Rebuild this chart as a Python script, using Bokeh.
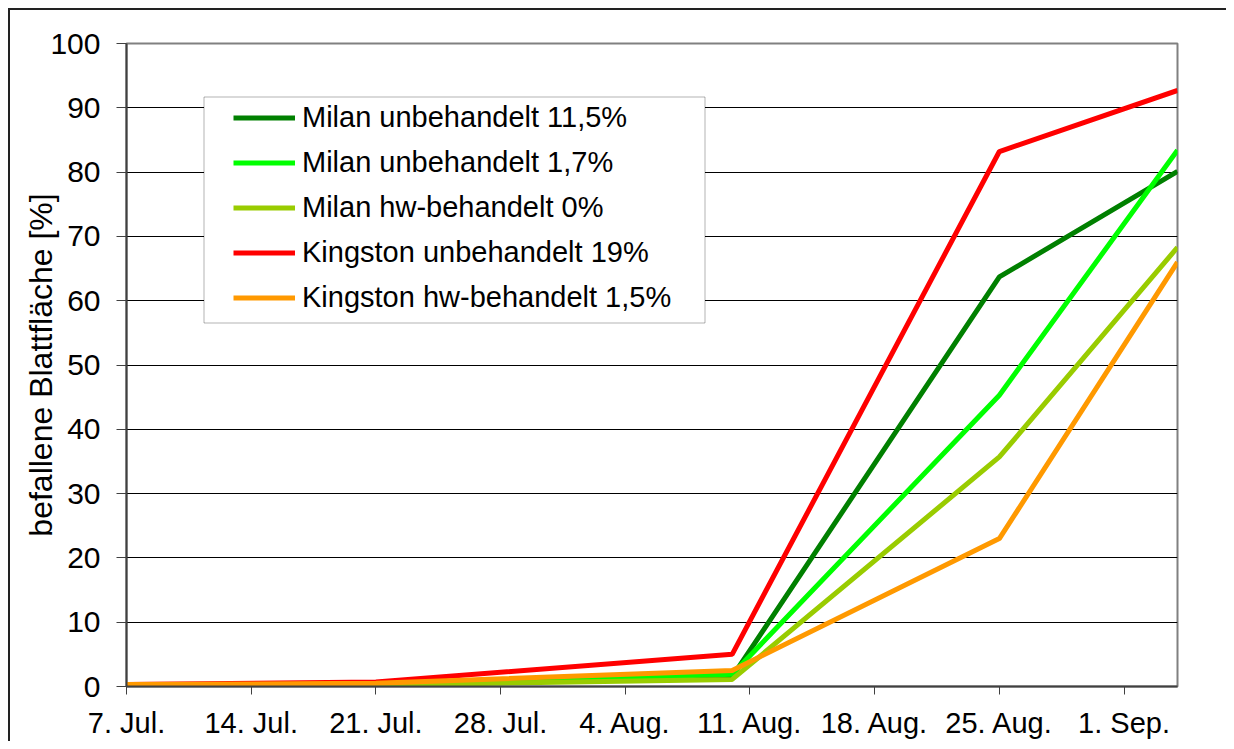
import pandas as pd
from bokeh.plotting import figure
from bokeh.models import Range1d, FixedTicker, Legend, LegendItem, BoxAnnotation
from bokeh.embed import file_html
from bokeh.resources import INLINE

# ---- data ----
dates = ["2004-07-07", "2004-07-21", "2004-08-10", "2004-08-25", "2004-09-04"]
series_names = [
    "Milan unbehandelt 11,5%",
    "Milan unbehandelt 1,7%",
    "Milan hw-behandelt 0%",
    "Kingston unbehandelt 19%",
    "Kingston hw-behandelt 1,5%",
]
milan_unb_115 = [0.3, 0.2, 1.5, 63.7, 80.1]
milan_unb_17 = [0.3, 0.2, 1.9, 45.3, 83.4]
milan_hw_0 = [0.3, 0.2, 1.1, 35.7, 68.3]
kingston_unb_19 = [0.3, 0.7, 5.0, 83.2, 92.7]
kingston_hw_15 = [0.3, 0.5, 2.5, 23.0, 66.0]
series_values = [milan_unb_115, milan_unb_17, milan_hw_0, kingston_unb_19, kingston_hw_15]
colors = ["#008000", "#00FF00", "#99CC00", "#FF0000", "#FF9900"]

tick_dates = ["2004-07-07", "2004-07-14", "2004-07-21", "2004-07-28", "2004-08-04",
              "2004-08-11", "2004-08-18", "2004-08-25", "2004-09-01"]
tick_labels = ["7. Jul.", "14. Jul.", "21. Jul.", "28. Jul.", "4. Aug.",
               "11. Aug.", "18. Aug.", "25. Aug.", "1. Sep."]
y_ticks = [0, 10, 20, 30, 40, 50, 60, 70, 80, 90, 100]
x_start, x_end = "2004-07-07", "2004-09-04"

origin = pd.Timestamp(x_start)
x_days = [int((pd.Timestamp(d) - origin).days) for d in dates]
tick_days = [int((pd.Timestamp(d) - origin).days) for d in tick_dates]
end_day = int((pd.Timestamp(x_end) - origin).days)

FONT = "Liberation Sans"

p = figure(width=1226, height=741, output_backend="svg", toolbar_location=None,
           x_range=Range1d(0, end_day), y_range=Range1d(0, 100),
           min_border_left=126, min_border_right=49, min_border_top=43, min_border_bottom=54)
p.background_fill_color = "white"
p.border_fill_color = None
# outer chart-area border (left and top edges visible, as in the reference)
p.styles = {
    "background": ("linear-gradient(#222,#222) 8px 8px / 2px calc(100% - 8px) no-repeat, "
                   "linear-gradient(#222,#222) 8px 8px / calc(100% - 8px) 2px no-repeat, #ffffff"),
}
p.outline_line_color = "#808080"
p.outline_line_width = 2

p.xgrid.visible = False
p.ygrid.ticker = FixedTicker(ticks=y_ticks[1:-1])
p.ygrid.grid_line_color = "black"
p.ygrid.grid_line_width = 1

# axes
p.yaxis.ticker = FixedTicker(ticks=y_ticks)
p.xaxis.ticker = FixedTicker(ticks=tick_days)
p.xaxis.major_label_overrides = {d: l for d, l in zip(tick_days, tick_labels)}
for ax in (p.xaxis, p.yaxis):
    ax.axis_line_color = "#404040"
    ax.axis_line_width = 2
    ax.major_tick_line_color = "#404040"
    ax.major_tick_line_width = 1
    ax.major_tick_in = 0
    ax.minor_tick_line_color = None
    ax.major_label_text_font = FONT
    ax.major_label_text_color = "black"
p.xaxis.major_label_text_font_size = "29px"
p.yaxis.major_label_text_font_size = "30px"
p.yaxis.major_tick_out = 10
p.yaxis.major_label_standoff = 16
p.xaxis.major_tick_out = 8
p.xaxis.major_label_standoff = 12
p.yaxis.axis_label = "befallene Blattfläche [%]"
p.yaxis.axis_label_text_font = FONT
p.yaxis.axis_label_text_font_size = "32px"
p.yaxis.axis_label_text_font_style = "normal"
p.yaxis.axis_label_text_color = "black"
p.yaxis.axis_label_standoff = -12

# lines
items = []
for name, vals, c in zip(series_names, series_values, colors):
    r = p.line(x_days, vals, line_color=c, line_width=5)
    items.append(LegendItem(label=name, renderers=[r]))

# legend frame
p.add_layout(BoxAnnotation(left=203.5, right=704.5, top=96.5, bottom=322.5,
                           left_units="canvas", right_units="canvas",
                           top_units="canvas", bottom_units="canvas",
                           fill_color="white", fill_alpha=1.0,
                           line_color="black", line_width=1))

legend = Legend(items=items, location=(107, 372), padding=0, margin=0,
                border_line_alpha=0, background_fill_alpha=0,
                glyph_width=62, glyph_height=33, label_height=33, spacing=12,
                label_standoff=7, label_text_font=FONT, label_text_font_size="29px",
                label_text_color="black")
p.add_layout(legend)

open("out.html", "w").write(file_html(p, INLINE))
